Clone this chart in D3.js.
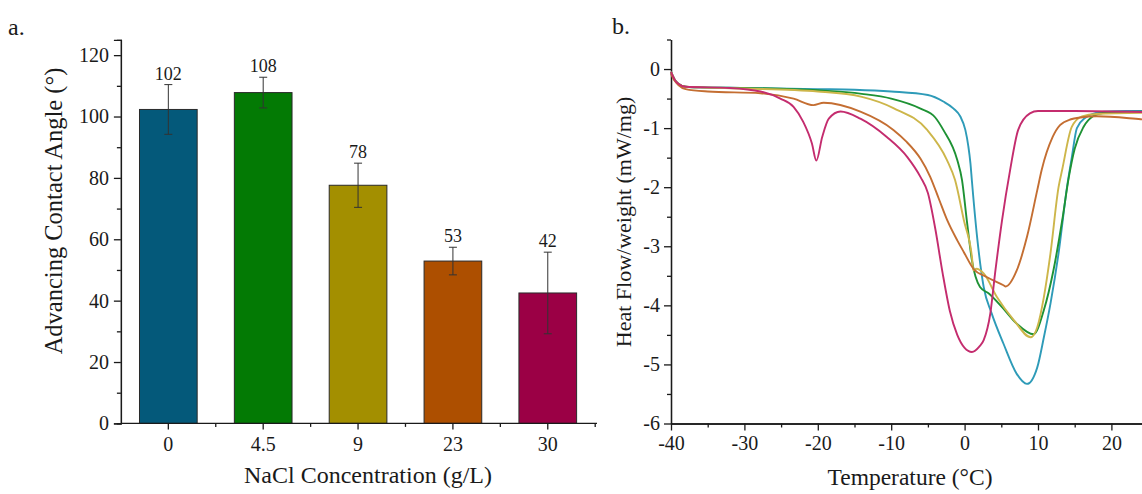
<!DOCTYPE html>
<html>
<head>
<meta charset="utf-8">
<script src="https://cdn.jsdelivr.net/npm/d3@7"></script>
<style>
  html, body { margin: 0; padding: 0; background: #fff; }
  svg { display: block; font-family: "Liberation Serif", "Times New Roman", serif; }
</style>
</head>
<body>
<svg id="chart" width="1142" height="494"></svg>
<script>
// ---------- Panel a data ----------
const categories = ["0", "4.5", "9", "23", "30"];
const contactAngle = [102.3, 107.8, 77.6, 52.9, 42.5];
const angleError = [8.1, 5.0, 7.2, 4.5, 13.3];
const angleLabels = ["102", "108", "78", "53", "42"];
const barColors = ["#04597A", "#037A04", "#A38F00", "#AD4F00", "#9B0045"];
const angleTicks = [0, 20, 40, 60, 80, 100, 120];

// ---------- Panel b data (DSC curves) ----------
const seriesNames = ["0", "4.5", "9", "23", "30"];
const lineColors = ["#2E9BB8", "#1E9234", "#CDB64A", "#C46E32", "#C42C6E"];

const tempS0 = [-40, -39.5, -39, -38, -36, -30, -20, -15, -10, -5, -2.9, -1.5, -0.6, 0.1, 0.5, 0.8, 1.0, 1.7, 2.6, 3.7, 5.3, 7.1, 8.5, 9.9, 10.8, 11.7, 12.8, 13.95, 14.6, 15.3, 16.5, 18, 19, 22, 25];
const flowS0 = [-0.05, -0.18, -0.25, -0.3, -0.31, -0.32, -0.34, -0.35, -0.38, -0.44, -0.55, -0.67, -0.8, -1.03, -1.3, -1.6, -1.9, -2.84, -3.69, -4.14, -4.65, -5.16, -5.33, -5.05, -4.54, -3.97, -3.12, -2.0, -1.5, -1.0, -0.82, -0.74, -0.72, -0.71, -0.71];

const tempS1 = [-40, -39.5, -39, -38, -36, -30, -20, -14, -10, -6, -4, -2.9, -1.0, -0.35, 0.3, 1.0, 2.1, 3.3, 5.1, 7.1, 9.4, 10.8, 12.1, 13.3, 14.2, 15, 16.2, 17.5, 19, 25];
const flowS1 = [-0.05, -0.18, -0.25, -0.3, -0.31, -0.32, -0.36, -0.42, -0.5, -0.67, -0.82, -1.03, -1.54, -1.88, -2.56, -3.24, -3.69, -3.80, -4.03, -4.31, -4.49, -4.08, -3.41, -2.56, -1.83, -1.35, -0.98, -0.8, -0.74, -0.72];

const tempS2 = [-40, -39.5, -39, -38, -36, -30, -20, -14, -9.7, -5.1, -2.4, -1.3, -0.1, 1.0, 1.2, 1.6, 2.6, 4.4, 6.7, 9.0, 9.9, 10.8, 11.7, 12.8, 13.3, 14.6, 16, 18, 25];
const flowS2 = [-0.05, -0.18, -0.25, -0.3, -0.31, -0.33, -0.38, -0.47, -0.66, -1.03, -1.54, -1.88, -2.56, -3.18, -3.41, -3.38, -3.46, -3.86, -4.25, -4.54, -4.37, -3.86, -3.12, -2.0, -1.7, -0.98, -0.8, -0.76, -0.74];

const tempS3 = [-40, -39.5, -39, -38, -35, -27.8, -23.3, -20.6, -19.2, -14.2, -9.7, -8, -6, -4.7, -3.5, -2.4, -1.0, -0.1, 1.2, 3.0, 5.3, 5.6, 7.1, 8.5, 9.9, 10.5, 12, 13, 14.5, 15.8, 18, 24, 25];
const flowS3 = [-0.08, -0.2, -0.27, -0.34, -0.38, -0.41, -0.5, -0.61, -0.57, -0.72, -1.03, -1.22, -1.52, -1.82, -2.2, -2.55, -2.9, -3.1, -3.38, -3.52, -3.66, -3.68, -3.41, -2.84, -2.05, -1.71, -1.15, -0.95, -0.85, -0.82, -0.8, -0.85, -0.86];

const tempS4 = [-40, -39.5, -39, -38, -32, -27.8, -25.1, -23.3, -22, -20.8, -20.2, -19.4, -18.5, -16.9, -14.2, -10.6, -7.8, -6.0, -5.0, -4.0, -3.0, -2.0, -1.0, 0, 1.0, 2.0, 2.6, 3.5, 4.2, 5.1, 6.2, 7.3, 8.9, 10, 15, 25];
const flowS4 = [-0.05, -0.18, -0.25, -0.3, -0.32, -0.38, -0.5, -0.64, -0.89, -1.26, -1.55, -1.15, -0.84, -0.72, -0.84, -1.15, -1.49, -1.83, -2.1, -2.7, -3.45, -4.1, -4.5, -4.72, -4.79, -4.7, -4.59, -4.14, -3.41, -2.56, -1.71, -1.03, -0.75, -0.71, -0.71, -0.73];

const tempTicks = [-40, -30, -20, -10, 0, 10, 20];
const flowTicks = [-6, -5, -4, -3, -2, -1, 0];

const dscSeries = [
  { name: seriesNames[0], color: lineColors[0], t: tempS0, v: flowS0 },
  { name: seriesNames[1], color: lineColors[1], t: tempS1, v: flowS1 },
  { name: seriesNames[2], color: lineColors[2], t: tempS2, v: flowS2 },
  { name: seriesNames[3], color: lineColors[3], t: tempS3, v: flowS3 },
  { name: seriesNames[4], color: lineColors[4], t: tempS4, v: flowS4 }
];

const FONT = '"Liberation Serif", "Times New Roman", serif';
const svg = d3.select("#chart").attr("font-family", FONT);
const ink = "#1a1a1a";

function styleAxis(g) {
  g.attr("font-family", FONT);
  g.select(".domain").attr("stroke", ink).attr("stroke-width", 1.3);
  g.selectAll(".tick line").attr("stroke", ink).attr("stroke-width", 1.3);
  g.selectAll(".tick text").attr("fill", ink).attr("font-size", 20).attr("font-family", FONT);
}

// ================= Panel a =================
const ax = d3.scaleBand().domain(categories).range([120.9, 595.2])
  .paddingInner(0.392).paddingOuter(0.196);
const ay = d3.scaleLinear().domain([0, 125]).range([423.4, 39.8]);

const gA = svg.append("g");

gA.selectAll("rect.bar").data(categories).join("rect")
  .attr("class", "bar")
  .attr("x", d => ax(d))
  .attr("width", ax.bandwidth())
  .attr("y", (d, i) => ay(contactAngle[i]))
  .attr("height", (d, i) => ay(0) - ay(contactAngle[i]))
  .attr("fill", (d, i) => barColors[i])
  .attr("stroke", "#2a2a2a").attr("stroke-width", 1);

const eb = gA.selectAll("g.err").data(categories).join("g").attr("class", "err");
eb.append("line")
  .attr("x1", d => ax(d) + ax.bandwidth() / 2).attr("x2", d => ax(d) + ax.bandwidth() / 2)
  .attr("y1", (d, i) => ay(contactAngle[i] + angleError[i]))
  .attr("y2", (d, i) => ay(contactAngle[i] - angleError[i]))
  .attr("stroke", "#333").attr("stroke-width", 1);
[1, -1].forEach(s => {
  eb.append("line")
    .attr("x1", d => ax(d) + ax.bandwidth() / 2 - 4).attr("x2", d => ax(d) + ax.bandwidth() / 2 + 4)
    .attr("y1", (d, i) => ay(contactAngle[i] + s * angleError[i]))
    .attr("y2", (d, i) => ay(contactAngle[i] + s * angleError[i]))
    .attr("stroke", "#333").attr("stroke-width", 1);
});
gA.selectAll("text.val").data(categories).join("text")
  .attr("class", "val")
  .attr("x", d => ax(d) + ax.bandwidth() / 2)
  .attr("y", (d, i) => ay(contactAngle[i] + angleError[i]) - 5)
  .attr("text-anchor", "middle").attr("font-size", 18).attr("fill", ink)
  .text((d, i) => angleLabels[i]);

const ayMinor = d3.range(10, 125, 20);
gA.append("g").attr("transform", "translate(120.9,0)")
  .call(d3.axisLeft(ay).tickValues(ayMinor).tickSize(4).tickFormat(""))
  .call(styleAxis);
gA.append("g").attr("transform", "translate(120.9,0)")
  .call(d3.axisLeft(ay).tickValues(angleTicks).tickSize(7).tickPadding(5))
  .call(styleAxis);

const gxa = gA.append("g").attr("transform", "translate(0,423.4)");
gxa.append("line").attr("x1", 120.9).attr("x2", 597).attr("y1", 0).attr("y2", 0)
  .attr("stroke", ink).attr("stroke-width", 1.3);
const bAxis = gxa.append("g")
  .call(d3.axisBottom(ax).tickSize(6).tickPadding(7).tickSizeOuter(0))
  .call(styleAxis);
bAxis.select(".domain").remove();
gxa.selectAll("line.mt").data(categories).join("line")
  .attr("class", "mt")
  .attr("x1", d => ax(d) + ax.bandwidth() + ax.step() * ax.paddingInner() / 2)
  .attr("x2", d => ax(d) + ax.bandwidth() + ax.step() * ax.paddingInner() / 2)
  .attr("y1", 0).attr("y2", 3.5)
  .attr("stroke", ink).attr("stroke-width", 1.3);

gA.append("text").attr("x", 368).attr("y", 483)
  .attr("text-anchor", "middle").attr("font-size", 24).attr("fill", ink)
  .text("NaCl Concentration (g/L)");
gA.append("text").attr("transform", "translate(62,211) rotate(-90)")
  .attr("text-anchor", "middle").attr("font-size", 24.5).attr("fill", ink)
  .text("Advancing Contact Angle (°)");
gA.append("text").attr("x", 8).attr("y", 35).attr("font-size", 24).attr("fill", ink).text("a.");

// ================= Panel b =================
const bx = d3.scaleLinear().domain([-40, 25]).range([671, 1148.1]);
const by = d3.scaleLinear().domain([-6, 0.5]).range([423.5, 39.5]);

const gB = svg.append("g");

gB.append("g").attr("transform", "translate(671,0)")
  .call(d3.axisLeft(by).tickValues(d3.range(-5.5, 0.6, 1)).tickSize(4).tickFormat("").tickSizeOuter(0))
  .call(styleAxis);
gB.append("g").attr("transform", "translate(671,0)")
  .call(d3.axisLeft(by).tickValues(flowTicks).tickSize(7).tickPadding(4).tickSizeOuter(0).tickFormat(d3.format("d")))
  .call(styleAxis);
gB.append("g").attr("transform", "translate(0,423.5)")
  .call(d3.axisBottom(bx).tickValues(d3.range(-35, 26, 10)).tickSize(4).tickFormat("").tickSizeOuter(0))
  .call(styleAxis);
gB.append("g").attr("transform", "translate(0,423.5)")
  .call(d3.axisBottom(bx).tickValues(tempTicks).tickSize(7).tickPadding(5).tickSizeOuter(0).tickFormat(d3.format("d")))
  .call(styleAxis);
gB.selectAll(".tick text").text(function () { return d3.select(this).text().replace("−", "-"); });

const line = d3.line().x(d => bx(d[0])).y(d => by(d[1])).curve(d3.curveMonotoneX);
gB.selectAll("path.dsc").data(dscSeries).join("path")
  .attr("class", "dsc")
  .attr("d", s => line(s.t.map((t, i) => [t, s.v[i]])))
  .attr("fill", "none").attr("stroke", s => s.color).attr("stroke-width", 1.9)
  .attr("stroke-linejoin", "round");

gB.append("text").attr("x", 910).attr("y", 485)
  .attr("text-anchor", "middle").attr("font-size", 23.5).attr("fill", ink)
  .text("Temperature (°C)");
gB.append("text").attr("transform", "translate(631,222) rotate(-90)")
  .attr("text-anchor", "middle").attr("font-size", 22).attr("fill", ink)
  .text("Heat Flow/weight (mW/mg)");
gB.append("text").attr("x", 612).attr("y", 34).attr("font-size", 24).attr("fill", ink).text("b.");
</script>
</body>
</html>
